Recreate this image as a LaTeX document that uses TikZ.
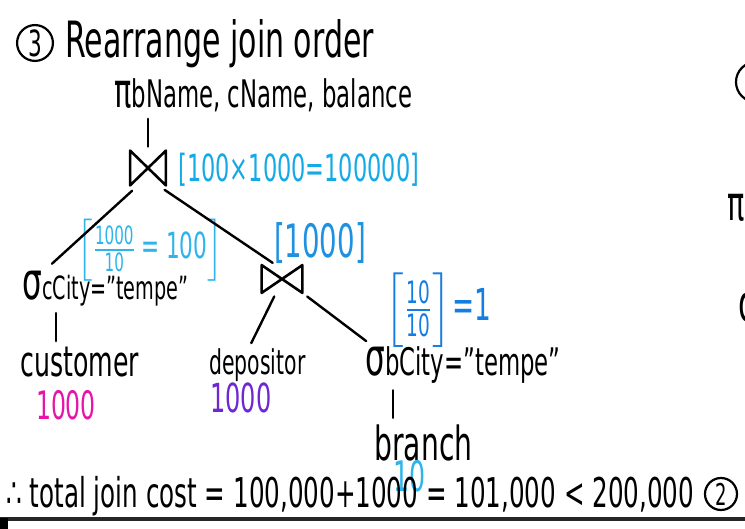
\documentclass[tikz,border=0pt]{standalone}
\usepackage{fix-cm}
\usepackage{amsmath}
\usepackage{fontspec}
\setmainfont{DejaVu Sans}[FakeStretch=0.6]
\usepackage{tikz}
\usetikzlibrary{positioning}
\definecolor{qcyan}{RGB}{20,170,230}
\definecolor{qsky}{RGB}{45,180,235}
\definecolor{qblue}{RGB}{30,145,225}
\definecolor{qdeep}{RGB}{20,125,225}
\definecolor{qmagenta}{RGB}{232,20,170}
\definecolor{qpurple}{RGB}{110,40,210}

\begin{document}
\begin{tikzpicture}[
  x=0.5pt, y=-0.5pt,
  txt/.style={inner sep=1pt, font=\fontsize{#1}{#1}\selectfont},
  ring/.style={circle, draw, line width=1.1pt, inner sep=0pt, minimum size=#1},
  joinop/.style 2 args={minimum width=#1, minimum height=#2, inner sep=0pt},
  bow/.style={line width=1.3pt, line join=round},
  link/.style={line width=1.2pt, line cap=round, shorten <=2pt, shorten >=2pt},
]
\useasboundingbox (0,0) rectangle (745,529);
\fill[white] (0,0) rectangle (745,529);
\clip (0,0) rectangle (745,529);

% -- heading --
\node[ring=17pt, txt=18] (c3) at (35,43) {3};
\node[txt=25, anchor=base west] (title) at (63,58) {Rearrange join order};

% -- projection and top join --
\node[txt=19, anchor=base west] (proj) at (112,108)
  {{\fontsize{24}{24}\selectfont π}bName, cName, balance};
\node[joinop={17.5pt}{17pt}] (j1) at (148,168) {};
\node[txt=18.7, text=qcyan, anchor=west] (cost1) at (176,170) {[100×1000=100000]};

% -- left branch: customer --
\node[txt=18, text=qsky] (frac1) at (150,250)
  {$\left[\tfrac{\text{1000}}{\text{10}}\text{\,=\,100}\right]$};
\node[txt=16, anchor=base west] (sel1) at (20,300)
  {{\fontsize{26}{26}\selectfont σ}cCity="tempe"};
\node[txt=21, anchor=base west] (cust) at (18,377) {customer};
\node[txt=19.6, text=qmagenta] (n1) at (66,405) {1000};

% -- right branch: lower join --
\node[joinop={20pt}{13.5pt}] (j2) at (282,279) {};
\node[txt=23, text=qblue] (cost2) at (320,243) {[1000]};
\node[txt=17, anchor=base west] (dep) at (207,375) {depositor};
\node[txt=20, text=qpurple] (n2) at (241,398) {1000};
\node[txt=22, text=qdeep] (frac2) at (438,310)
  {$\left[\tfrac{\text{10}}{\text{10}}\right]$=1};
\node[txt=19, anchor=base west] (sel2) at (363,376)
  {{\fontsize{26}{26}\selectfont σ}bCity="tempe"};
\node[txt=23.5, anchor=base west] (branch) at (372,460) {branch};
\node[txt=21, text=qsky] (n3) at (410,476) {10};

% -- bowties --
\foreach \j in {j1,j2}
  \draw[bow] (\j.north west) -- (\j.south east) -- (\j.north east)
    -- (\j.south west) -- cycle;

% -- tree edges --
\draw[link] (proj.south -| j1.north) -- (j1.north);
\draw[link, shorten <=4pt, shorten >=4pt] ([xshift=-5pt]j1.south) -- ([xshift=13pt]sel1.north west);
\draw[link, shorten <=4pt] ([xshift=5pt]j1.south) -- ([xshift=-3pt]j2.north);
\draw[link] ([xshift=18pt]sel1.south west) -- ([xshift=19pt]cust.north west);
\draw[link] ([xshift=-3pt]j2.south) -- ([xshift=-4pt]dep.north);
\draw[link, shorten <=3pt, shorten >=3pt] (j2.south east) -- ([xshift=4pt]sel2.north west);
\draw[link] ([xshift=15pt]sel2.south west) -- ([xshift=10.5pt]branch.north west);

% -- total cost --
\node[txt=20.5, anchor=base west] (total) at (4,508)
  {∴ total join cost = 100,000+1000 = 101,000 < 200,000};
\node[ring=16pt, txt=15] (c2) at (721,494) {2};

% -- next column, cut off at the edge --
\node[ring=20pt, txt=17] (c4) at (756,82) {4};
\node[txt=24] (pinext) at (736,208) {π};
\node[txt=26] (signext) at (748,308) {σ};

% -- page rule --
\draw[line width=1.6pt, black!85] (0,519) -- (745,519);
\fill (0,518) rectangle (8,529);
\end{tikzpicture}
\end{document}
